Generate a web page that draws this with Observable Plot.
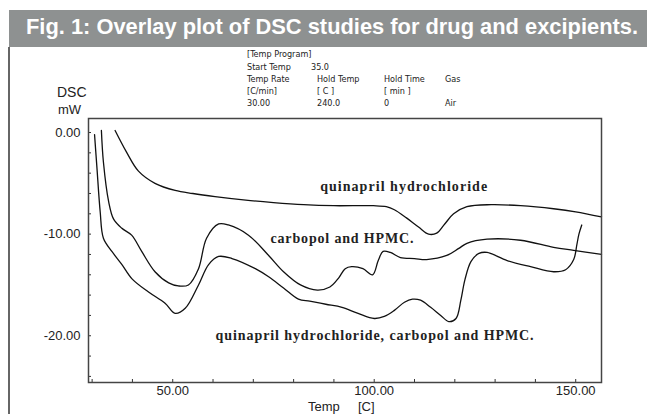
<!DOCTYPE html>
<html><head><meta charset="utf-8">
<script src="https://cdn.jsdelivr.net/npm/d3@7"></script>
<script src="https://cdn.jsdelivr.net/npm/@observablehq/plot@0.6"></script>
<style>
body{margin:0;background:#fff;width:647px;height:414px;overflow:hidden;position:relative;font-family:"Liberation Sans",Arial,sans-serif}
#chart{position:absolute;left:0;top:47px}
#overlay{position:absolute;left:0;top:0;pointer-events:none}
</style>
</head><body>
<div id="chart"></div>
<svg id="overlay" width="647" height="414"></svg>
<script>
// ---- data ----
const tempTicks = [50, 100, 150];
const dscTicks = [0, -10, -20];

const qhTemp = [35.7, 38.5, 41.5, 45.6, 50.6, 55, 60.5, 69.3, 75, 82.5, 90, 99.8, 103, 105, 108, 111, 113.5, 115.5, 117.5, 119.7, 123, 129, 136.3, 144.5, 150, 156.4];
const qhDsc  = [0.2, -1.9, -3.8, -5.0, -5.7, -6.0, -6.3, -6.7, -6.9, -7.1, -7.2, -7.2, -7.3, -7.6, -8.4, -9.3, -10.0, -9.9, -9.0, -8.0, -7.3, -7.1, -7.2, -7.5, -7.8, -8.3];

const cpTemp = [32.3, 32.8, 34.1, 35.3, 37.3, 39.8, 42.3, 45.6, 49, 51.4, 53.9, 56.4, 58.4, 61.4, 63.8, 68.8, 73.8, 77.5, 81.7, 85.9, 89, 91.2, 92.8, 94.4, 97.2, 99.6, 101, 102.2, 104, 106.5, 110, 113, 118, 121, 123, 128, 136.3, 144.5, 149.5, 156.4];
const cpDsc  = [0.2, -2.9, -6.8, -8.5, -9.4, -10.1, -11.7, -13.7, -14.8, -15.1, -15.0, -13.4, -10.4, -9.0, -9.1, -10.1, -12.1, -13.7, -15.0, -15.5, -15.2, -14.3, -13.4, -13.2, -13.4, -14.0, -12.6, -11.7, -11.8, -12.3, -12.4, -12.5, -12.1, -11.4, -10.9, -10.5, -10.6, -11.3, -11.6, -12.0];

const mixTemp = [30.6, 31.2, 32, 32.8, 34.9, 37.4, 39.9, 44, 48.1, 50.6, 53.1, 56.4, 58.9, 61.4, 64.7, 70.5, 73.8, 77.5, 81.2, 84, 88, 92, 96, 100, 102.5, 105, 107.5, 109.5, 111.5, 114, 116.5, 118.5, 120.3, 121.5, 122.5, 124, 126, 128, 133, 138.8, 144.5, 147.5, 149.5, 150.3, 150.8, 151.5];
const mixDsc  = [-0.2, -3.5, -7.8, -10.4, -11.7, -13.0, -14.4, -15.7, -16.8, -17.8, -17.3, -15.0, -13.0, -12.2, -12.4, -13.4, -14.2, -15.3, -16.4, -16.6, -16.9, -17.2, -17.8, -18.3, -18.1, -17.5, -16.7, -16.4, -16.5, -17.2, -18.0, -18.6, -18.3, -16.5, -14.5, -12.7, -11.9, -11.8, -12.6, -13.2, -13.7, -13.5, -12.5, -11.0, -10.0, -9.1];

const labelText = ["quinapril hydrochloride", "carbopol and HPMC.", "quinapril hydrochloride, carbopol and HPMC."];
const labelTemp = [107.3, 92.0, 100.1];
const labelDsc  = [-5.3, -10.4, -20.0];

const titleText = "Fig. 1: Overlay plot of DSC studies for drug and excipients.";
const headerRows = [
  ["[Temp Program]"],
  ["Start Temp", "35.0"],
  ["Temp Rate", "Hold Temp", "Hold Time", "Gas"],
  ["[C/min]", "[ C ]", "[ min ]"],
  ["30.00", "240.0", "0", "Air"]
];

// ---- build tables ----
const toRows = (T, V, s) => T.map((t, i) => ({temp: t, dsc: V[i], s}));
const series = [toRows(qhTemp, qhDsc, "qh"), toRows(cpTemp, cpDsc, "cp"), toRows(mixTemp, mixDsc, "mix")];
const labels = labelText.map((t, i) => ({t, temp: labelTemp[i], dsc: labelDsc[i]}));

const xDomain = [29.1, 156.4], yDomain = [-24.6, 1.38];
const minorX = d3.range(30, 151, 10), minorY = d3.range(-24, 1, 2);
const fmt = d => d.toFixed(2);

const plot = Plot.plot({
  width: 647, height: 367,
  marginLeft: 88, marginRight: 46, marginTop: 71, marginBottom: 32,
  style: {fontFamily: "Liberation Sans, Arial, sans-serif", fontSize: "13px", color: "#222", background: "transparent"},
  x: {domain: xDomain},
  y: {domain: yDomain},
  marks: [
    Plot.axisX({ticks: minorX, tickSize: 3, dy: -3, tickFormat: () => "", label: null, stroke: "#333"}),
    Plot.axisY({ticks: minorY, tickSize: 3, dx: 3, tickFormat: () => "", label: null, stroke: "#333"}),
    Plot.axisX({ticks: tempTicks, tickSize: 0, tickPadding: 3, tickFormat: fmt, label: null, fill: "#222"}),
    Plot.axisY({ticks: dscTicks, tickSize: 0, tickPadding: 8, tickFormat: fmt, label: null, fill: "#222"}),
    ...series.map(d => Plot.line(d, {x: "temp", y: "dsc", curve: "catmull-rom", stroke: "#111", strokeWidth: 1.3})),
    Plot.text(labels, {x: "temp", y: "dsc", text: "t", fontFamily: "Liberation Serif, Times New Roman, serif", fontWeight: "bold", fontSize: 14, fill: "#222"}),
    Plot.frame({stroke: "#444", strokeWidth: 1.5})
  ]
});
document.getElementById("chart").appendChild(plot);

// stretch annotation labels to the widths seen in the picture
const labelWidths = [167, 143, 318];
d3.select(plot).selectAll("g[aria-label='text'] text").each(function(d, i) {
  this.setAttribute("textLength", labelWidths[i]);
  this.setAttribute("lengthAdjust", "spacing");
});

// ---- overlay: title bar, header block, axis captions ----
const ov = d3.select("#overlay");
ov.append("rect").attr("x", 9).attr("y", 10).attr("width", 638).attr("height", 37).attr("fill", "#8e9191");
ov.append("text").attr("x", 26).attr("y", 34).text(titleText)
  .attr("fill", "#fff").attr("font-weight", "bold").attr("font-size", 22)
  .attr("font-family", "Liberation Sans, Arial, sans-serif")
  .attr("textLength", 612).attr("lengthAdjust", "spacingAndGlyphs");
ov.append("line").attr("x1", 9).attr("x2", 9).attr("y1", 47).attr("y2", 414).attr("stroke", "#333").attr("stroke-width", 1.5);

const colX = [247, 317, 384, 445];
const rowY = [57, 70, 82, 94, 106];
headerRows.forEach((row, r) => row.forEach((t, c) => {
  ov.append("text").attr("x", r === 1 && c === 1 ? 311 : colX[c]).attr("y", rowY[r]).text(t)
    .attr("font-size", 9).attr("fill", "#222")
    .attr("font-family", "Liberation Sans Narrow, DejaVu Sans Condensed, Liberation Sans, sans-serif");
}));

ov.append("text").attr("x", 57).attr("y", 97).text("DSC").attr("font-size", 14).attr("fill", "#222");
ov.append("text").attr("x", 58).attr("y", 114).text("mW").attr("font-size", 13).attr("fill", "#222");
ov.append("text").attr("x", 308).attr("y", 411).text("Temp").attr("font-size", 13).attr("fill", "#222");
ov.append("text").attr("x", 358).attr("y", 411).text("[C]").attr("font-size", 13).attr("fill", "#222");
</script>
</body></html>
